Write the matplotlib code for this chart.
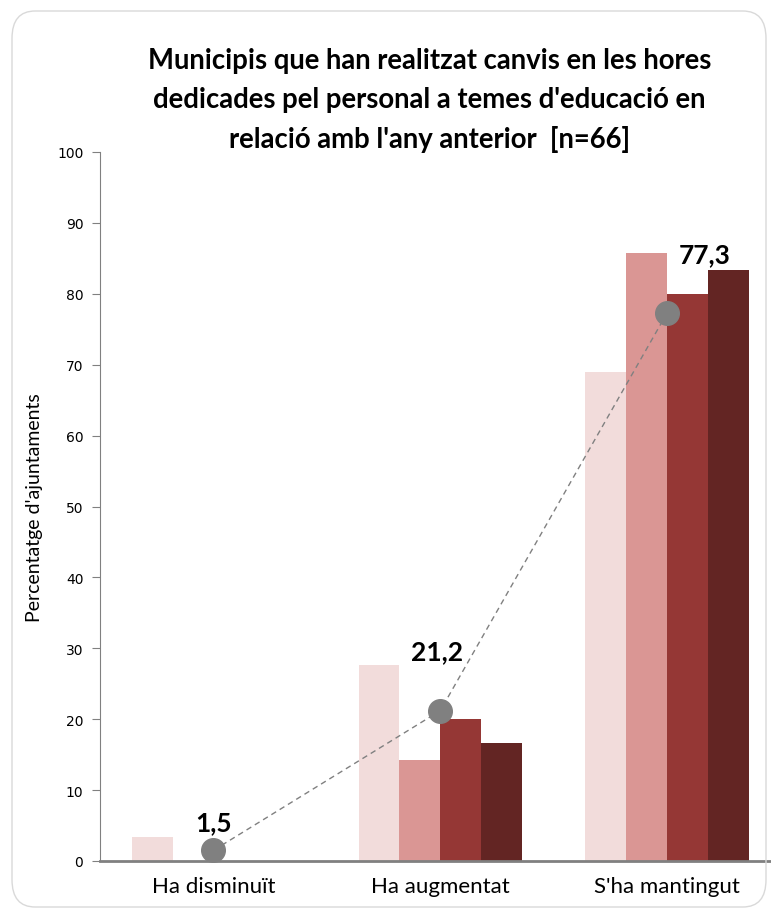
import matplotlib
matplotlib.use('agg')
import matplotlib.pyplot as plt
from matplotlib.patches import FancyBboxPatch

categories = ["Ha disminuït", "Ha augmentat", "S'ha mantingut"]
series_1 = [3.4, 27.6, 69.0]
series_2 = [0.0, 14.3, 85.7]
series_3 = [0.0, 20.0, 80.0]
series_4 = [0.0, 16.7, 83.3]
total = [1.5, 21.2, 77.3]
total_labels = ["1,5", "21,2", "77,3"]

colors = ["#F2DCDB", "#DA9694", "#953735", "#632523"]

fig = plt.figure(figsize=(7.71, 9.12), dpi=100)
fig.patches.append(FancyBboxPatch((12 / 771, 4 / 912), 754 / 771, 896 / 912,
                                  boxstyle="round,pad=0,rounding_size=0.03",
                                  transform=fig.transFigure, fill=False,
                                  edgecolor="#D9D9D9", linewidth=1))

ax = fig.add_axes([100 / 771, 50 / 912, 671 / 771, 709 / 912])

x = list(range(len(categories)))
width = 0.18
offsets = [-0.27, -0.09, 0.09, 0.27]
for s, off, c in zip([series_1, series_2, series_3, series_4], offsets, colors):
    ax.bar([i + off for i in x], s, width=width, color=c, zorder=2)

ax.plot(x, total, linestyle=(0, (4, 3)), linewidth=1, color="#808080", zorder=3)
ax.plot(x, total, linestyle="none", marker="o", markersize=17,
        color="#808080", zorder=4, clip_on=False)

label_offsets = [(0, 20), (-2, 43), (27, 42)]
for i, (v, lab) in enumerate(zip(total, total_labels)):
    ax.annotate(lab, (i, v), xytext=label_offsets[i], textcoords="offset points",
                ha="center", va="center", fontsize=19, fontweight="bold",
                family="Lato", color="black")

ax.set_xlim(-0.5, 2.458)
ax.set_ylim(0, 100)
ax.set_yticks(range(0, 101, 10))
ax.set_xticks(x)
ax.set_xticklabels(categories, family="Lato", fontsize=16)
ax.tick_params(axis="x", length=0, pad=11)
ax.tick_params(axis="y", direction="out", length=6, color="#808080",
               labelsize=10, pad=6)
ax.set_ylabel("Percentatge d'ajuntaments", family="Lato", fontsize=14, labelpad=10)

for side in ["top", "right"]:
    ax.spines[side].set_visible(False)
ax.spines["left"].set_color("#808080")
ax.spines["bottom"].set_color("#808080")
ax.spines["bottom"].set_linewidth(2)

fig.text(0.557, 0.890, "Municipis que han realitzat canvis en les hores\n"
         "dedicades pel personal a temes d'educació en\n"
         "relació amb l'any anterior  [n=66]",
         ha="center", va="center", fontsize=19.8, fontweight="bold",
         family="Lato", linespacing=1.6)

fig.savefig("out.png", dpi=100)
